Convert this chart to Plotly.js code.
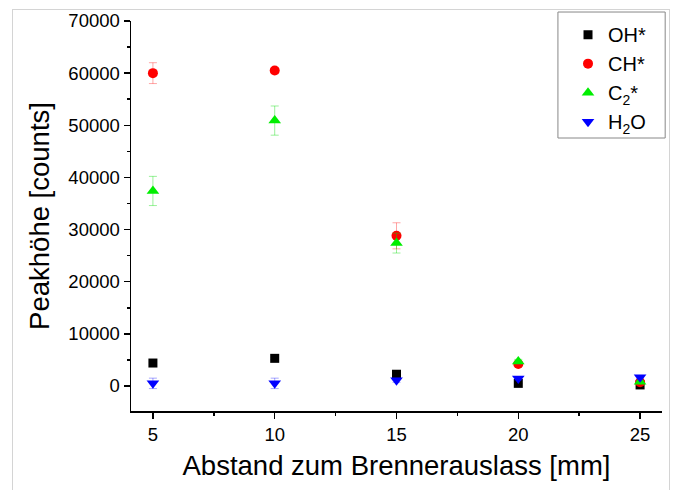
<!DOCTYPE html>
<html>
<head>
<meta charset="utf-8">
<script src="https://cdn.plot.ly/plotly-3.0.1.min.js"></script>
<style>
html,body{margin:0;padding:0;background:#fff;}
#frame{position:absolute;left:12px;top:9px;width:656px;height:500px;border:1.5px solid #d4d4d4;pointer-events:none;z-index:5;}
#chart{width:677px;height:490px;}
</style>
</head>
<body>
<div id="chart"></div>
<div id="frame"></div>
<script>
const distances = [5, 10, 15, 20, 25];
const ohValues = [4400, 5300, 2250, 500, 200];
const ohErrors = [200, 200, 200, 100, 100];
const chValues = [60000, 60500, 28800, 4200, 700];
const chErrors = [2000, 600, 2500, 300, 200];
const c2Values = [37400, 50900, 27400, 4700, 800];
const c2Errors = [2800, 2800, 1900, 400, 200];
const h2oValues = [500, 500, 1100, 1450, 1650];
const h2oErrors = [1000, 1000, 400, 300, 300];
const seriesNames = ['OH*', 'CH*', 'C<sub>2</sub>*', 'H<sub>2</sub>O'];
const yTicks = [0, 10000, 20000, 30000, 40000, 50000, 60000, 70000];
const xTicks = [5, 10, 15, 20, 25];

function tr(name, y, err, symbol, size, color, errColor) {
  return {
    type: 'scatter', mode: 'markers', name: name,
    x: distances, y: y,
    marker: {symbol: symbol, size: size, color: color, line: {width: 0}},
    error_y: {type: 'data', array: err, visible: true, color: errColor, thickness: 1, width: 4}
  };
}
const data = [
  tr(seriesNames[0], ohValues, ohErrors, 'square', 9, '#000000', 'rgba(0,0,0,0.35)'),
  tr(seriesNames[1], chValues, chErrors, 'circle', 10, '#ff0000', 'rgba(255,0,0,0.35)'),
  tr(seriesNames[2], c2Values, c2Errors, 'triangle-up', 11, '#00ee00', 'rgba(0,220,0,0.4)'),
  tr(seriesNames[3], h2oValues, h2oErrors, 'triangle-down', 11, '#0000ff', 'rgba(0,0,255,0.35)')
];
const layout = {
  width: 677, height: 490,
  margin: {l: 131, r: 15, t: 21, b: 79},
  paper_bgcolor: '#fff', plot_bgcolor: '#fff',
  font: {family: 'Liberation Sans, Arial, sans-serif', color: '#000'},
  showlegend: true,
  legend: {x: 0.823, y: 1.015, xanchor: 'left', yanchor: 'top',
    borderwidth: 0, bgcolor: 'rgba(0,0,0,0)',
    font: {size: 20, color: '#000'}, itemwidth: 30},
  shapes: [{type: 'rect', xref: 'paper', yref: 'paper', x0: 0.804, x1: 1.006, y0: 0.70, y1: 1.023,
    line: {color: '#888', width: 1}, fillcolor: 'rgba(255,255,255,0)', layer: 'below'}],
  xaxis: {
    range: [4.1, 25.9], tickvals: xTicks, ticktext: xTicks.map(String),
    showline: true, linecolor: '#000', linewidth: 1.5, mirror: false,
    ticks: 'outside', ticklen: 6, tickwidth: 1.5, tickcolor: '#000',
    minor: {dtick: 2.5, tick0: 0, ticks: 'outside', ticklen: 3, tickwidth: 1.5, tickcolor: '#000', showgrid: false},
    showgrid: false, zeroline: false,
    tickfont: {size: 18.5},
    title: {text: 'Abstand zum Brennerauslass [mm]', font: {size: 27.5}, standoff: 12}
  },
  yaxis: {
    range: [-4800, 70000], tickvals: yTicks, ticktext: yTicks.map(String),
    showline: true, linecolor: '#000', linewidth: 1.5, mirror: false,
    ticks: 'outside', ticklen: 6, tickwidth: 1.5, tickcolor: '#000',
    minor: {dtick: 5000, tick0: 0, ticks: 'outside', ticklen: 3, tickwidth: 1.5, tickcolor: '#000', showgrid: false},
    showgrid: false, zeroline: false,
    tickfont: {size: 18.5},
    title: {text: 'Peakhöhe [counts]', font: {size: 27.5}, standoff: 10}
  }
};
Plotly.newPlot('chart', data, layout, {staticPlot: true, displayModeBar: false});
</script>
</body>
</html>
